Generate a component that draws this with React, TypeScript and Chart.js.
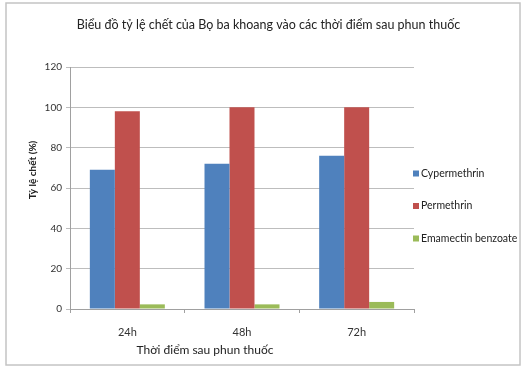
import { useEffect, useRef } from "react";
import { Chart, registerables } from "chart.js";

Chart.register(...registerables);

const categories = ["24h", "48h", "72h"];
const seriesNames = ["Cypermethrin", "Permethrin", "Emamectin benzoate"];
const cypermethrin = [69, 72, 76];
const permethrin = [98, 100, 100];
const emamectin = [2.3, 2.3, 3.5];
const seriesColors = ["#4F81BD", "#C0504D", "#9BBB59"];
const yMin = 0;
const yMax = 120;
const yStep = 20;
const chartTitle = "Biểu đồ tỷ lệ chết của Bọ ba khoang vào các thời điểm sau phun thuốc";
const xTitle = "Thời điểm sau phun thuốc";
const yTitle = "Tỷ lệ chết (%)";

const FONT = "Lato, 'Open Sans', sans-serif";

const decorPlugin = {
  id: "decor",
  beforeDraw(chart: any) {
    const ctx = chart.ctx;
    ctx.save();
    ctx.fillStyle = "#ffffff";
    ctx.fillRect(0, 0, chart.width, chart.height);
    ctx.strokeStyle = "#c4c4c4";
    ctx.lineWidth = 1.5;
    ctx.strokeRect(6, 3, chart.width - 7, chart.height - 6);
    ctx.restore();
  },
  afterDraw(chart: any) {
    const ctx = chart.ctx;
    const a = chart.chartArea;
    ctx.save();
    ctx.fillStyle = "#222";
    ctx.textAlign = "center";
    ctx.textBaseline = "middle";
    // chart title
    ctx.font = `12.5px ${FONT}`;
    ctx.fillText(chartTitle, chart.width / 2 + 8, 25);
    // x axis title
    ctx.font = `12px ${FONT}`;
    ctx.fillText(xTitle, (a.left + a.right) / 2 - 37, a.bottom + 41);
    // y axis title
    ctx.save();
    ctx.translate(a.left - 37, (a.top + a.bottom) / 2 - 18);
    ctx.rotate(-Math.PI / 2);
    ctx.font = `bold 10px ${FONT}`;
    ctx.fillText(yTitle, 0, 0);
    ctx.restore();
    // legend
    const cy = (a.top + a.bottom) / 2 + 18;
    const gap = 32.5;
    ctx.font = `10.5px ${FONT}`;
    ctx.textAlign = "left";
    chart.data.datasets.forEach((ds: any, i: number) => {
      const y = cy + (i - 1) * gap;
      ctx.fillStyle = ds.backgroundColor;
      ctx.fillRect(a.right - 1, y - 3, 6, 6);
      ctx.fillStyle = "#222";
      ctx.fillText(ds.label, a.right + 7, y);
    });
    ctx.restore();
  },
};

export default function App() {
  const ref = useRef<HTMLCanvasElement | null>(null);
  useEffect(() => {
    document.body.style.margin = "0";
    const values = [cypermethrin, permethrin, emamectin];
    const chart = new Chart(ref.current!, {
      type: "bar",
      data: {
        labels: categories,
        datasets: seriesNames.map((name, i) => ({
          label: name,
          data: values[i],
          backgroundColor: seriesColors[i],
          borderWidth: 0,
          categoryPercentage: 0.654,
          barPercentage: 1.0,
        })),
      },
      options: {
        animation: false,
        responsive: true,
        maintainAspectRatio: false,
        layout: { padding: { left: 8, right: 107, top: 67, bottom: 0 } },
        plugins: {
          legend: { display: false },
          tooltip: { enabled: false },
          title: { display: false },
        },
        scales: {
          x: {
            grid: {
              display: true,
              offset: true,
              drawOnChartArea: false,
              drawTicks: true,
              tickLength: 4,
              color: "#a0a0a0",
            },
            border: { display: true, color: "#a0a0a0" },
            ticks: {
              color: "#333",
              font: { family: FONT, size: 11 },
              padding: 13,
            },
            afterFit: (s: any) => {
              s.height = 59;
            },
          },
          y: {
            min: yMin,
            max: yMax,
            ticks: {
              stepSize: yStep,
              color: "#333",
              font: { family: FONT, size: 10 },
              padding: 4,
            },
            grid: { color: "#bdbdbd", tickLength: 4 },
            border: { display: true, color: "#a0a0a0" },
            afterFit: (s: any) => {
              s.width = 62;
            },
          },
        },
      },
      plugins: [decorPlugin],
    });
    return () => chart.destroy();
  }, []);
  return (
    <div style={{ width: 521, height: 368, position: "relative" }}>
      <canvas ref={ref} />
    </div>
  );
}
